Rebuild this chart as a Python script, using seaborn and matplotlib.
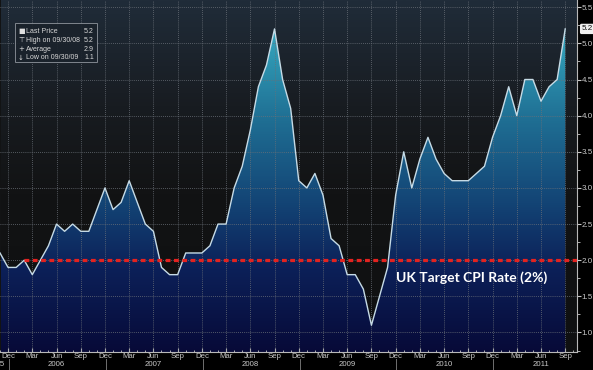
import numpy as np
import pandas as pd
import matplotlib
matplotlib.use("Agg")
import matplotlib.pyplot as plt
import matplotlib.transforms as mtransforms
from matplotlib.colors import LinearSegmentedColormap
import seaborn as sns

# ---------------- data ----------------
months = pd.date_range("2005-11-01", "2011-09-01", freq="MS")
cpi = [2.1, 1.9,
       1.9, 2.0, 1.8, 2.0, 2.2, 2.5, 2.4, 2.5, 2.4, 2.4, 2.7, 3.0,
       2.7, 2.8, 3.1, 2.8, 2.5, 2.4, 1.9, 1.8, 1.8, 2.1, 2.1, 2.1,
       2.2, 2.5, 2.5, 3.0, 3.3, 3.8, 4.4, 4.7, 5.2, 4.5, 4.1, 3.1,
       3.0, 3.2, 2.9, 2.3, 2.2, 1.8, 1.8, 1.6, 1.1, 1.5, 1.9, 2.9,
       3.5, 3.0, 3.4, 3.7, 3.4, 3.2, 3.1, 3.1, 3.1, 3.2, 3.3, 3.7,
       4.0, 4.4, 4.0, 4.5, 4.5, 4.2, 4.4, 4.5, 5.2]
target = 2.0
month_labels = ["Dec", "Mar", "Jun", "Sep"]
years = ["2006", "2007", "2008", "2009", "2010", "2011"]
legend_rows = [("\u25A0", "Last Price", "5.2"),
               ("\u22A4", "High on 09/30/08", "5.2"),
               ("+", "Average", "2.9"),
               ("\u2193", "Low on 09/30/09", "1.1")]
y_ticks = [1.0, 1.5, 2.0, 2.5, 3.0, 3.5, 4.0, 4.5, 5.0, 5.5]

# month index: 0 = Dec 2005
m = np.arange(len(cpi)) - 1
df = pd.DataFrame({"m": m, "cpi": cpi})

# ---------------- figure ----------------
fig = plt.figure(figsize=(5.93, 3.70), dpi=100, facecolor="black")
ax = fig.add_axes([0, 18 / 370, 577 / 593, 352 / 370])
XMIN, XMAX = -0.865, 70.46
YMIN, YMAX = 0.73, 5.6
ax.set_xlim(XMIN, XMAX)
ax.set_ylim(YMIN, YMAX)
ax.set_facecolor("#121314")

# background gradient
bg_cmap = LinearSegmentedColormap.from_list(
    "bg", [(0.0, "#0f1011"), (0.45, "#121314"), (0.7, "#181c21"), (1.0, "#202c39")])
grad = np.linspace(0, 1, 256).reshape(-1, 1)
ax.imshow(grad, extent=[XMIN, XMAX, YMIN, YMAX], origin="lower", aspect="auto",
          cmap=bg_cmap, zorder=0)

# gradient fill under curve
fill = ax.fill_between(df["m"], df["cpi"], YMIN, color="none", zorder=1)
fill_cmap = LinearSegmentedColormap.from_list(
    "fill", [(0.0, "#070a38"), (0.25, "#0c2058"), (0.45, "#134475"),
             (0.7, "#1f6e93"), (0.9, "#2f98b3"), (1.0, "#3aaac2")])
img = ax.imshow(grad, extent=[XMIN, XMAX, YMIN, 5.3], origin="lower", aspect="auto",
                cmap=fill_cmap, zorder=1)
img.set_clip_path(fill.get_paths()[0], transform=ax.transData)

# grid
for q in range(0, 72, 3):
    ax.axvline(q, color="#6a7078", lw=0.6, ls=(0, (1, 1.5)), zorder=2)
for yv in y_ticks:
    ax.axhline(yv, color="#6a7078", lw=0.6, ls=(0, (1, 1.5)), zorder=2)

# line
sns.lineplot(data=df, x="m", y="cpi", color="#c6dbe6", lw=1.0, ax=ax, zorder=4)

# target line
ax.plot([2, XMAX], [target, target], color="#e4221f", lw=2.3,
        ls=(0, (1.5, 1.1)), zorder=5)
ax.text(57.4, 1.765, "UK Target CPI Rate (2%)", color="white", fontsize=10,
        fontweight="bold", family=["Lato", "DejaVu Sans"], ha="center", va="center",
        zorder=6)

# axes styling
for s in ["top", "left"]:
    ax.spines[s].set_visible(False)
ax.spines["bottom"].set_color("#b8b8b8")
ax.spines["bottom"].set_linewidth(0.8)
ax.spines["right"].set_color("#b8b8b8")
ax.spines["right"].set_linewidth(0.8)
ax.set_xlabel("")
ax.set_ylabel("")

ax.yaxis.tick_right()
ax.set_yticks(y_ticks)
ax.set_yticklabels([f"{v:.1f}" for v in y_ticks])
ax.set_yticks(np.arange(0.75, 5.6, 0.25), minor=True)
ax.tick_params(axis="y", which="major", colors="#c8c8c8", labelsize=5.8,
               length=3, width=0.8, pad=0.5, direction="out")
ax.tick_params(axis="y", which="minor", colors="#c8c8c8", length=2, width=0.6)

ax.set_xticks(list(range(0, 70, 3)))
ax.set_xticklabels([month_labels[(i // 3) % 4] for i in range(0, 70, 3)])
ax.set_xticks(list(range(-1, 71)), minor=True)
ax.tick_params(axis="x", which="major", colors="#c8c8c8", labelsize=5.6,
               length=3, width=0.8, pad=0.5, direction="in")
ax.tick_params(axis="x", which="minor", colors="#c8c8c8", length=1.5, width=0.6,
               direction="in")
for lab in ax.get_xticklabels() + ax.get_yticklabels():
    lab.set_family(["Liberation Sans", "DejaVu Sans"])

# year labels and separators
trans = mtransforms.blended_transform_factory(ax.transData, ax.transAxes)
for i, yr in enumerate(years):
    ax.text(6 + 12 * i, -0.036, yr, transform=trans, ha="center", va="center",
            color="#c8c8c8", fontsize=5.6, family=["Liberation Sans", "DejaVu Sans"],
            clip_on=False)
for i in range(6):
    ax.plot([0.1 + 12 * i] * 2, [-0.02, -0.06], transform=trans, color="#707070",
            lw=0.7, clip_on=False)
fig.text(4.5 / 593, 1 - 364.5 / 370, "2005", ha="right", va="center", color="#c8c8c8",
         fontsize=5.6, family=["Liberation Sans", "DejaVu Sans"])

# last price tag
ax.annotate("5.2", xy=(1.008, 5.2), xycoords=("axes fraction", "data"),
            ha="left", va="center", fontsize=5.8, color="#101010",
            family=["Liberation Sans", "DejaVu Sans"],
            bbox=dict(boxstyle="round,pad=0.12", fc="#f0f0f0", ec="#f0f0f0"),
            annotation_clip=False)

# legend box
lx0, ly0 = 15 / 577, 1 - 23 / 352
box_w, box_h = 82 / 577, 39 / 352
ax.add_patch(plt.Rectangle((lx0, ly0 - box_h), box_w, box_h, transform=ax.transAxes,
                           fc="#1a222b", ec="#8a9098", lw=0.7, alpha=0.9, zorder=7))
for i, (sym, name, val) in enumerate(legend_rows):
    yy = ly0 - (8.5 + 8.8 * i) / 352
    ax.text(lx0 + 3 / 577, yy, sym, transform=ax.transAxes, color="#e0e0e0",
            fontsize=5.0, va="center", ha="left", zorder=8,
            family=["DejaVu Sans"])
    ax.text(lx0 + 10.5 / 577, yy, name, transform=ax.transAxes, color="#d8d8d8",
            fontsize=5.0, va="center", ha="left", zorder=8,
            family=["Liberation Sans", "DejaVu Sans"])
    ax.text(lx0 + 79 / 577, yy, val, transform=ax.transAxes, color="#d8d8d8",
            fontsize=5.0, va="center", ha="right", zorder=8,
            family=["Liberation Sans", "DejaVu Sans"])

fig.savefig("out.png", dpi=100, facecolor="black")
